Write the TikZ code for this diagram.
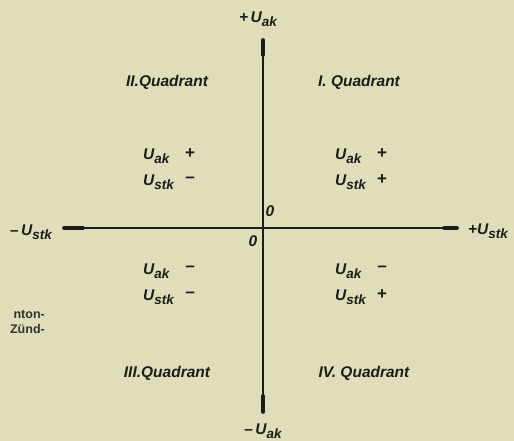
\documentclass[tikz,border=0pt]{standalone}
\usepackage{fontspec}
\setmainfont{Liberation Sans}
\usepackage{tikz}
\usetikzlibrary{calc}
\definecolor{Paper}{HTML}{DFDDBA}
\definecolor{Ink}{HTML}{1C1C18}
\definecolor{Faded}{HTML}{34342C}
\newcommand{\Usub}[1]{U\raisebox{-4pt}{\fontsize{13.5}{14}\selectfont #1}}

\begin{document}
\begin{tikzpicture}[x=1pt,y=-1pt,
  axis/.style={line width=1.5pt,Ink},
  axisend/.style={line width=3.6pt,Ink,line cap=round},
  lbl/.style={font=\fontsize{15.5}{18}\selectfont\bfseries\itshape,text=Ink,inner sep=1pt},
  sign/.style={font=\fontsize{17}{19}\selectfont\bfseries,text=Ink,inner sep=1pt},
  cut/.style={font=\fontsize{12.5}{14}\selectfont\bfseries,text=Faded,inner sep=1pt,anchor=east}]
  \fill[Paper] (0,0) rectangle (514,441);
  \useasboundingbox (0,0) rectangle (514,441);
  % axes
  \coordinate (o) at (263,228);
  \coordinate (top) at (263,40);
  \coordinate (bot) at (263,412);
  \coordinate (lft) at (64,228);
  \coordinate (rgt) at (457,228);
  \draw[axis] (top) -- (bot);
  \draw[axis] (lft) -- (rgt);
  % thickened ends
  \draw[axisend] (top) -- ($(top)+(0,15)$);
  \draw[axisend] (bot) -- ($(bot)+(0,-16)$);
  \draw[axisend] (lft) -- ($(lft)+(19,0)$);
  \draw[axisend] (rgt) -- ($(rgt)+(-13,0)$);
  % axis labels
  \node[lbl] (pUak) at (258,19) {+\,\Usub{ak}};
  \node[lbl] (mUak) at (263,431) {--\,\Usub{ak}};
  \node[lbl] (mUstk) at (31,232) {--\,\Usub{stk}};
  \node[lbl] (pUstk) at (488,231) {+\Usub{stk}};
  \node[lbl] (zeroA) at (270,211) {0};
  \node[lbl] (zeroB) at (253,241) {0};
  % quadrants
  \node[lbl] (q2) at (167,82) {II.Quadrant};
  \node[lbl] (q1) at (359,82) {I. Quadrant};
  \node[lbl] (q3) at (167,373) {III.Quadrant};
  \node[lbl] (q4) at (364,373) {IV. Quadrant};
  % sign tables
  \foreach \xa/\ya/\sa/\sb [count=\i] in {142/156/+/--,334/156/+/+,142/271/--/--,334/271/--/+}{
    \node[lbl,anchor=west] (ua\i) at (\xa,\ya) {\Usub{ak}};
    \node[sign] (sa\i) at (\xa+48,\ya-2) {\sa};
    \node[lbl,anchor=west] (us\i) at (\xa,\ya+26) {\Usub{stk}};
    \node[sign] (ss\i) at (\xa+48,\ya+24) {\sb};
  }
  % text of the neighbouring column, cut off
  \node[cut] (cutA) at (46,314) {nton-};
  \node[cut] (cutB) at (46,329) {Zünd-};
\end{tikzpicture}
\end{document}
